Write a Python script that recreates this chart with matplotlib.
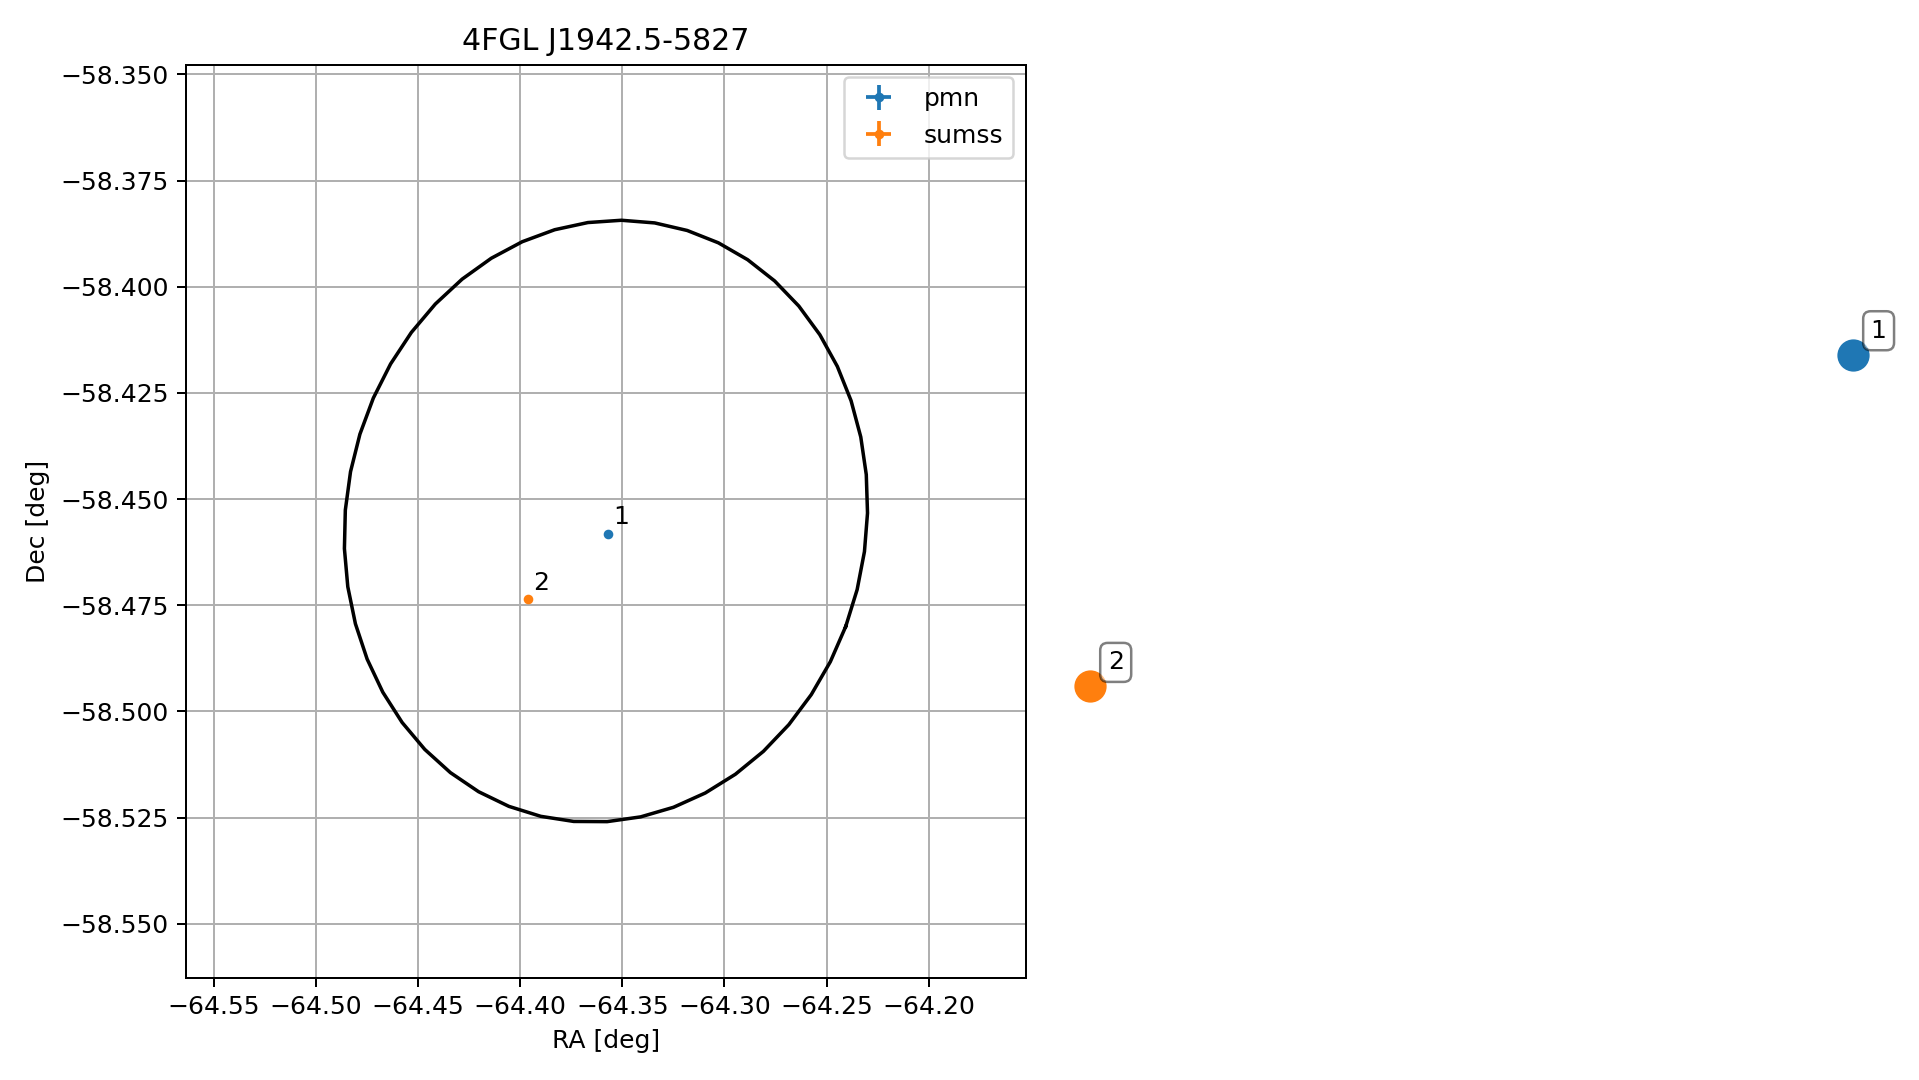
import numpy as np
import matplotlib
matplotlib.use("Agg")
import matplotlib.pyplot as plt
from matplotlib.ticker import MultipleLocator

# ---- data ----
title = "4FGL J1942.5-5827"
ra0, dec0 = -64.358, -58.4552          # field / ellipse centre [deg]
field_radius = 0.1075                  # half-height of the view [deg]
ell_a, ell_b, ell_pa = 0.0716, 0.0662, 22.0   # semi-major, semi-minor [deg], PA [deg]
n_ell = 50

labels = ["1", "2"]
catalogs = ["pmn", "sumss"]
src_ra = [-64.3569, -64.3963]
src_dec = [-58.4581, -58.4736]
src_err = [0.0003, 0.0003]

# large markers drawn outside the axes
out_ra = [-63.748, -64.1213]
out_dec = [-58.416, -58.4941]

colors = ["#1f77b4", "#ff7f0e"]

# ---- figure ----
DPI = 180
fig = plt.figure(figsize=(1919 / DPI, 1080 / DPI), dpi=DPI)
ax = fig.add_axes([0.0969, 0.0947, 0.4377, 0.8454])

cosd = np.cos(np.radians(dec0))
t = np.linspace(0, 2 * np.pi, n_ell)
phi = np.radians(ell_pa)
u = ell_a * np.sin(t) * np.sin(phi) + ell_b * np.cos(t) * np.cos(phi)
v = ell_a * np.sin(t) * np.cos(phi) - ell_b * np.cos(t) * np.sin(phi)
ax.plot(ra0 + u / cosd, dec0 + v, color="black", lw=1.4)

for i in range(len(labels)):
    ax.errorbar(src_ra[i], src_dec[i], xerr=src_err[i], yerr=src_err[i],
                fmt=".", color=colors[i], label=catalogs[i], markersize=5.7)
    ax.annotate(labels[i], (src_ra[i], src_dec[i]), xytext=(2.0, 3.8),
                textcoords="offset points", fontsize=10, va="baseline")
    ax.plot(out_ra[i], out_dec[i], "o", color=colors[i], markersize=11.9,
            clip_on=False)
    ax.annotate(labels[i], (out_ra[i], out_dec[i]), xytext=(7.2, 6.8),
                textcoords="offset points", fontsize=10, va="baseline",
                annotation_clip=False,
                bbox=dict(boxstyle="round", fc="white", ec="black", alpha=0.5))

ax.set_xlim(ra0 - field_radius / cosd, ra0 + field_radius / cosd)
ax.set_ylim(dec0 - field_radius, dec0 + field_radius)
ax.xaxis.set_major_locator(MultipleLocator(0.05))
ax.yaxis.set_major_locator(MultipleLocator(0.025))
ax.grid(True)
ax.set_xlabel("RA [deg]")
ax.set_ylabel("Dec [deg]")
ax.set_title(title)
ax.legend(loc="upper right")

fig.savefig("out.png", dpi=DPI)
